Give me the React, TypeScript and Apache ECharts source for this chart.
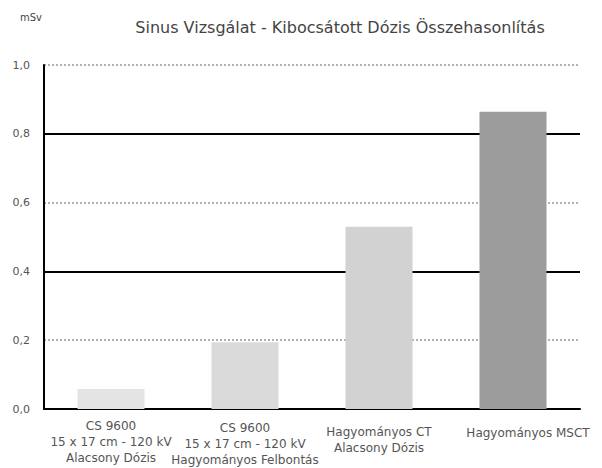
import React, { useEffect, useRef } from "react";
import * as echarts from "echarts";

const titleText = "Sinus Vizsgálat - Kibocsátott Dózis Összehasonlítás";
const unitText = "mSv";
const categories = [
  "CS 9600\n15 x 17 cm - 120 kV\nAlacsony Dózis",
  "CS 9600\n15 x 17 cm - 120 kV\nHagyományos Felbontás",
  "Hagyományos CT\nAlacsony Dózis",
  "Hagyományos MSCT",
];
const doseValues = [0.058, 0.194, 0.53, 0.864];
const barColors = ["#e4e4e4", "#dadada", "#d2d2d2", "#9c9c9c"];
const yTicks = [0, 0.2, 0.4, 0.6, 0.8, 1.0];

const FONT = "DejaVu Sans";

export default function App() {
  const ref = useRef<HTMLDivElement>(null);
  useEffect(() => {
    if (!ref.current) return;
    const chart = echarts.init(ref.current, null, { renderer: "svg" });
    const yMin = yTicks[0];
    const yMax = yTicks[yTicks.length - 1];
    const step = yTicks[1] - yTicks[0];
    const labelPads: number[][] = [
      [0, 0, 0, 0],
      [2, 0, 0, 0],
      [6, 0, 0, 0],
      [7, 0, 0, 30],
    ];
    chart.setOption({
      animation: false,
      backgroundColor: "#ffffff",
      textStyle: { fontFamily: FONT },
      graphic: [
        {
          type: "text",
          x: 340,
          y: 27,
          style: {
            text: titleText,
            align: "center",
            verticalAlign: "middle",
            fontFamily: FONT,
            fontSize: 16,
            fill: "#444",
          },
        },
        {
          type: "text",
          x: 20,
          y: 17,
          style: {
            text: unitText,
            align: "left",
            verticalAlign: "middle",
            fontFamily: FONT,
            fontSize: 10,
            fill: "#444",
          },
        },
      ],
      grid: { left: 44, right: 22, top: 65, bottom: 58, containLabel: false },
      xAxis: {
        type: "category",
        data: categories.map((c, i) => ({
          value: c,
          textStyle: { padding: labelPads[i] },
        })),
        axisTick: { show: false },
        axisLine: { show: true, lineStyle: { color: "#000", width: 2 } },
        axisLabel: {
          interval: 0,
          margin: 9,
          fontFamily: FONT,
          fontSize: 12,
          lineHeight: 16,
          color: "#555",
        },
      },
      yAxis: [
        {
          type: "value",
          min: yMin,
          max: yMax,
          interval: step,
          axisLine: { show: true, lineStyle: { color: "#000", width: 2 } },
          axisTick: { show: false },
          axisLabel: {
            fontFamily: FONT,
            fontSize: 11,
            color: "#555",
            margin: 14,
            formatter: (v: number) => v.toFixed(1).replace(".", ","),
          },
          splitLine: {
            show: true,
            lineStyle: { color: "#999", type: [2, 2], width: 1.5 },
          },
        },
        {
          type: "value",
          min: yMin,
          max: yMax,
          interval: step,
          position: "left",
          axisLine: { show: false },
          axisTick: { show: false },
          axisLabel: { show: false },
          splitLine: {
            show: true,
            lineStyle: {
              color: ["#000", "rgba(0,0,0,0)", "#000", "rgba(0,0,0,0)", "#000", "rgba(0,0,0,0)"],
              width: 2,
              type: "solid",
            },
          },
        },
      ],
      series: [
        {
          type: "bar",
          yAxisIndex: 0,
          barWidth: "50%",
          data: doseValues.map((v, i) => ({
            value: v,
            itemStyle: { color: barColors[i] },
          })),
        },
      ],
    });
    return () => chart.dispose();
  }, []);
  return (
    <div
      ref={ref}
      style={{ position: "absolute", left: 0, top: 0, width: 602, height: 468 }}
    />
  );
}
